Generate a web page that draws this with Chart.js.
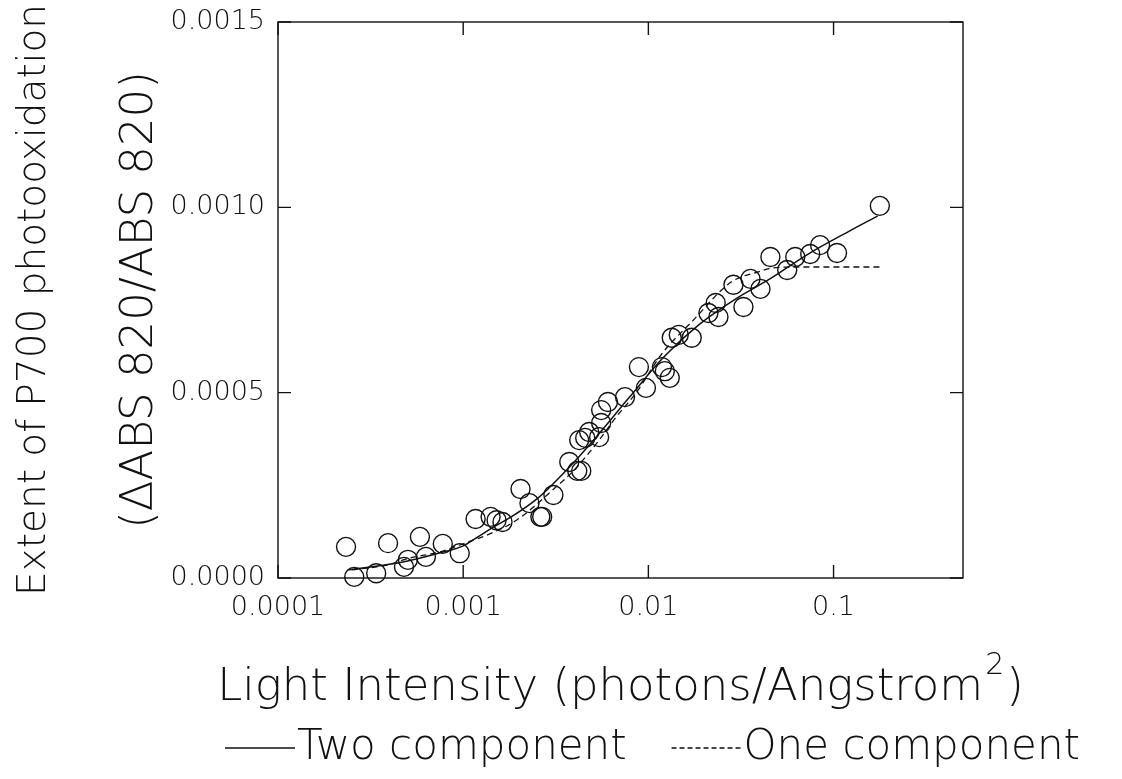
<!DOCTYPE html>
<html>
<head>
<meta charset="utf-8">
<script src="https://cdn.jsdelivr.net/npm/chart.js@4/dist/chart.umd.min.js"></script>
<style>
  html, body { margin: 0; padding: 0; background: #fff; }
</style>
</head>
<body>
<canvas id="p700" width="1122" height="779"></canvas>
<script>
// measured P700 photooxidation vs light intensity (open circles)
const lightIntensity = [
  2.33e-4, 2.58e-4, 3.39e-4, 3.93e-4, 4.79e-4, 5.03e-4, 5.84e-4, 6.29e-4, 7.76e-4, 9.58e-4,
  1.167e-3, 1.406e-3, 1.514e-3, 1.63e-3, 2.04e-3, 2.28e-3, 2.61e-3, 2.67e-3, 3.07e-3, 3.74e-3,
  4.13e-3, 4.34e-3, 4.23e-3, 4.56e-3, 4.79e-3, 5.42e-3, 5.56e-3, 5.56e-3, 6.05e-3, 7.48e-3,
  8.89e-3, 9.7e-3, 1.183e-2, 1.227e-2, 1.305e-2, 1.337e-2, 1.459e-2, 1.714e-2, 2.11e-2, 2.31e-2,
  2.39e-2, 2.88e-2, 3.26e-2, 3.56e-2, 4.03e-2, 4.56e-2, 5.62e-2, 6.21e-2, 7.48e-2, 8.46e-2,
  1.044e-1, 1.778e-1
];
const p700Extent = [
  8.4e-5, 3e-6, 1.3e-5, 9.4e-5, 3.0e-5, 4.9e-5, 1.11e-4, 5.7e-5, 9.2e-5, 6.7e-5,
  1.59e-4, 1.65e-4, 1.56e-4, 1.51e-4, 2.40e-4, 2.02e-4, 1.65e-4, 1.65e-4, 2.24e-4, 3.13e-4,
  2.89e-4, 2.89e-4, 3.72e-4, 3.78e-4, 3.94e-4, 3.80e-4, 4.18e-4, 4.53e-4, 4.75e-4, 4.88e-4,
  5.69e-4, 5.13e-4, 5.69e-4, 5.58e-4, 5.40e-4, 6.48e-4, 6.56e-4, 6.48e-4, 7.15e-4, 7.42e-4,
  7.04e-4, 7.91e-4, 7.31e-4, 8.07e-4, 7.80e-4, 8.66e-4, 8.31e-4, 8.66e-4, 8.74e-4, 8.98e-4,
  8.77e-4, 1.004e-3
];

// fitted curves
const twoCompX = [2.39e-4, 4.73e-4, 7.76e-4, 9.94e-4, 1.2e-3, 1.44e-3, 1.78e-3, 2.58e-3, 3.74e-3,
  5.22e-3, 7.85e-3, 1.211e-2, 1.87e-2, 3.07e-2, 4.44e-2, 7.29e-2, 1.197e-1, 1.734e-1];
const twoCompY = [2.2e-5, 4.3e-5, 7.0e-5, 8.6e-5, 1.11e-4, 1.36e-4, 1.62e-4, 2.19e-4, 2.99e-4,
  3.80e-4, 4.86e-4, 5.96e-4, 6.83e-4, 7.58e-4, 8.04e-4, 8.74e-4, 9.34e-4, 9.77e-4];
const oneCompX = [2.51e-4, 3.88e-4, 5.15e-4, 7.47e-4, 9.58e-4, 1.42e-3, 1.94e-3, 3.18e-3, 3.97e-3,
  5.42e-3, 6.69e-3, 8.57e-3, 1.183e-2, 1.714e-2, 2.81e-2, 3.93e-2, 4.61e-2, 6.44e-2, 1.778e-1];
const oneCompY = [2.2e-5, 3.5e-5, 5.4e-5, 7.0e-5, 8.9e-5, 1.21e-4, 1.56e-4, 2.46e-4, 2.91e-4,
  3.72e-4, 4.34e-4, 4.99e-4, 6.05e-4, 6.91e-4, 7.99e-4, 8.26e-4, 8.36e-4, 8.39e-4, 8.39e-4];

const xTicks = [0.0001, 0.001, 0.01, 0.1];
const xTickLabels = ["0.0001", "0.001", "0.01", "0.1"];
const yTicks = [0, 0.0005, 0.001, 0.0015];

const yTitle = ["Extent of P700 photooxidation", "(\u0394ABS 820/ABS 820)"];
const xTitle = ["Light Intensity (photons/Angstrom", "2", ")"];

const FONT = "'DejaVu Sans', sans-serif";
const WEIGHT = 200;
const INK = "#111";
const TEXT = "#111";

const pairs = (xs, ys) => xs.map((x, i) => ({ x: x, y: ys[i] }));
const font = size => WEIGHT + " " + size + "px " + FONT;

// frame + inward tick marks on all four sides
const frameTicks = {
  id: "frameTicks",
  afterDraw(chart) {
    const { ctx, chartArea: a } = chart;
    const x = chart.scales.x, y = chart.scales.y;
    const len = 13;
    ctx.save();
    ctx.strokeStyle = INK;
    ctx.lineWidth = 1.4;
    ctx.strokeRect(a.left, a.top, a.right - a.left, a.bottom - a.top);
    ctx.beginPath();
    x.ticks.forEach(t => {
      const px = x.getPixelForValue(t.value);
      ctx.moveTo(px, a.bottom); ctx.lineTo(px, a.bottom - len);
      ctx.moveTo(px, a.top); ctx.lineTo(px, a.top + len);
    });
    y.ticks.forEach(t => {
      const py = y.getPixelForValue(t.value);
      ctx.moveTo(a.left, py); ctx.lineTo(a.left + len, py);
      ctx.moveTo(a.right, py); ctx.lineTo(a.right - len, py);
    });
    ctx.stroke();
    ctx.restore();
  }
};

// axis titles (x title has a raised "2") and the legend row
const titlesLegend = {
  id: "titlesLegend",
  afterDraw(chart) {
    const { ctx, chartArea: a } = chart;
    ctx.save();
    ctx.fillStyle = TEXT;
    ctx.strokeStyle = INK;
    ctx.textBaseline = "middle";

    // y titles, rotated
    const cy = (a.top + a.bottom) / 2;
    [[yTitle[0], 35, 39], [yTitle[1], 140, 45]].forEach(([txt, cx, size]) => {
      ctx.save();
      ctx.translate(cx, cy);
      ctx.rotate(-Math.PI / 2);
      ctx.textAlign = "center";
      ctx.font = font(size);
      ctx.fillText(txt, 0, 0);
      ctx.restore();
    });

    // x title
    ctx.textAlign = "left";
    const big = font(45), small = font(30);
    ctx.font = big;
    const w1 = ctx.measureText(xTitle[0]).width, w3 = ctx.measureText(xTitle[2]).width;
    ctx.font = small;
    const w2 = ctx.measureText(xTitle[1]).width + 4;
    let tx = (a.left + a.right) / 2 - (w1 + w2 + w3) / 2;
    const ty = 688;
    ctx.font = big;
    ctx.fillText(xTitle[0], tx, ty);
    ctx.font = small;
    ctx.fillText(xTitle[1], tx + w1 + 2, ty - 22);
    ctx.font = big;
    ctx.fillText(xTitle[2], tx + w1 + w2, ty);

    // legend
    const ly = 748, lineW = 70;
    ctx.font = font(42);
    const ds1 = chart.data.datasets[1], ds2 = chart.data.datasets[2];
    const t2w = ctx.measureText(ds2.label).width;
    const items = [
      { ds: ds1, x0: 225, dash: [] },
      { ds: ds2, x0: 1080 - t2w - lineW - 2, dash: [5, 3] }
    ];
    items.forEach(it => {
      ctx.lineWidth = it.ds.borderWidth;
      ctx.setLineDash(it.dash);
      ctx.beginPath();
      ctx.moveTo(it.x0, ly); ctx.lineTo(it.x0 + lineW, ly);
      ctx.stroke();
      ctx.setLineDash([]);
      ctx.fillText(it.ds.label, it.x0 + lineW + 2, ly);
    });
    ctx.restore();
  }
};

new Chart(document.getElementById("p700"), {
  type: "scatter",
  data: {
    datasets: [
      {
        label: "Data",
        data: pairs(lightIntensity, p700Extent),
        pointRadius: 9.5,
        pointHoverRadius: 9.5,
        pointBorderWidth: 1.4,
        pointBorderColor: INK,
        pointBackgroundColor: "rgba(0,0,0,0)",
        clip: false
      },
      {
        label: "Two component",
        data: pairs(twoCompX, twoCompY),
        showLine: true,
        pointRadius: 0,
        borderColor: INK,
        borderWidth: 1.5,
        cubicInterpolationMode: "monotone"
      },
      {
        label: "One component",
        data: pairs(oneCompX, oneCompY),
        showLine: true,
        pointRadius: 0,
        borderColor: INK,
        borderWidth: 1.3,
        borderDash: [6, 4],
        cubicInterpolationMode: "monotone"
      }
    ]
  },
  options: {
    responsive: false,
    animation: false,
    devicePixelRatio: 1,
    layout: { autoPadding: false, padding: { left: 0, right: 159, top: 22, bottom: 65 } },
    plugins: { legend: { display: false }, tooltip: { enabled: false } },
    scales: {
      x: {
        type: "logarithmic",
        min: 0.0001,
        max: 0.5,
        grid: { display: false, drawTicks: false },
        border: { display: false },
        afterBuildTicks: s => { s.ticks = xTicks.map(v => ({ value: v })); },
        afterFit: s => { s.height = 136; },
        ticks: {
          padding: 14,
          maxRotation: 0,
          autoSkip: false,
          color: TEXT,
          font: { family: FONT, size: 27, weight: WEIGHT, lineHeight: 1.2 },
          callback: (v, i) => xTickLabels[i]
        }
      },
      y: {
        min: 0,
        max: 0.0015,
        grid: { display: false, drawTicks: false },
        border: { display: false },
        afterBuildTicks: s => { s.ticks = yTicks.map(v => ({ value: v })); },
        afterFit: s => { s.width = 278; },
        ticks: {
          padding: 13,
          color: TEXT,
          font: { family: FONT, size: 27, weight: WEIGHT, lineHeight: 0.5 },
          callback: v => v.toFixed(4)
        }
      }
    }
  },
  plugins: [frameTicks, titlesLegend]
});
</script>
</body>
</html>
